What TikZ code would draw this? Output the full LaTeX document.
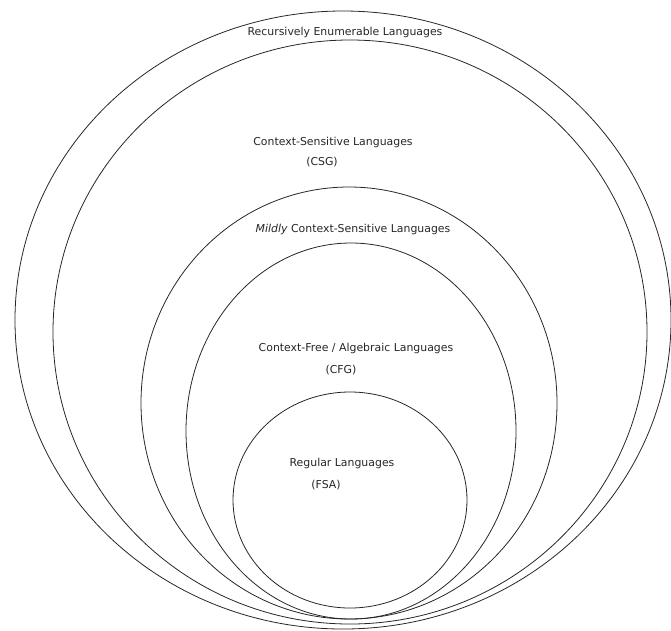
\documentclass[tikz,border=0pt]{standalone}
\usepackage{fontspec}
\setmainfont{DejaVu Sans}
\begin{document}
\begin{tikzpicture}[x=1pt,y=-1pt,
  setline/.style={draw=black!85,line width=0.8pt},
  lbl/.style={inner sep=0pt,font=\fontsize{10.9}{13}\selectfont,text=black!85}]
\useasboundingbox (0,0) rectangle (671,630);
% nested language classes
\draw[setline] (343,320) ellipse [x radius=328,y radius=309];
\draw[setline] (350,332) ellipse [x radius=297,y radius=292];
\draw[setline] (349,403) ellipse [x radius=208,y radius=216];
\draw[setline] (351,431) ellipse [x radius=165,y radius=188];
\draw[setline] (350,500) ellipse [x radius=117,y radius=108];
% labels
\node[lbl] (re)   at (345,32)  {Recursively Enumerable Languages};
\node[lbl] (csl)  at (333,142) {Context-Sensitive Languages};
\node[lbl] (csg)  at (322,162) {(CSG)};
\node[lbl] (mcsl) at (353,229) {\textit{Mildly} Context-Sensitive Languages};
\node[lbl] (cfl)  at (356,348) {Context-Free / Algebraic Languages};
\node[lbl] (cfg)  at (341,370) {(CFG)};
\node[lbl] (reg)  at (342,463) {Regular Languages};
\node[lbl] (fsa)  at (326,485) {(FSA)};
\end{tikzpicture}
\end{document}
